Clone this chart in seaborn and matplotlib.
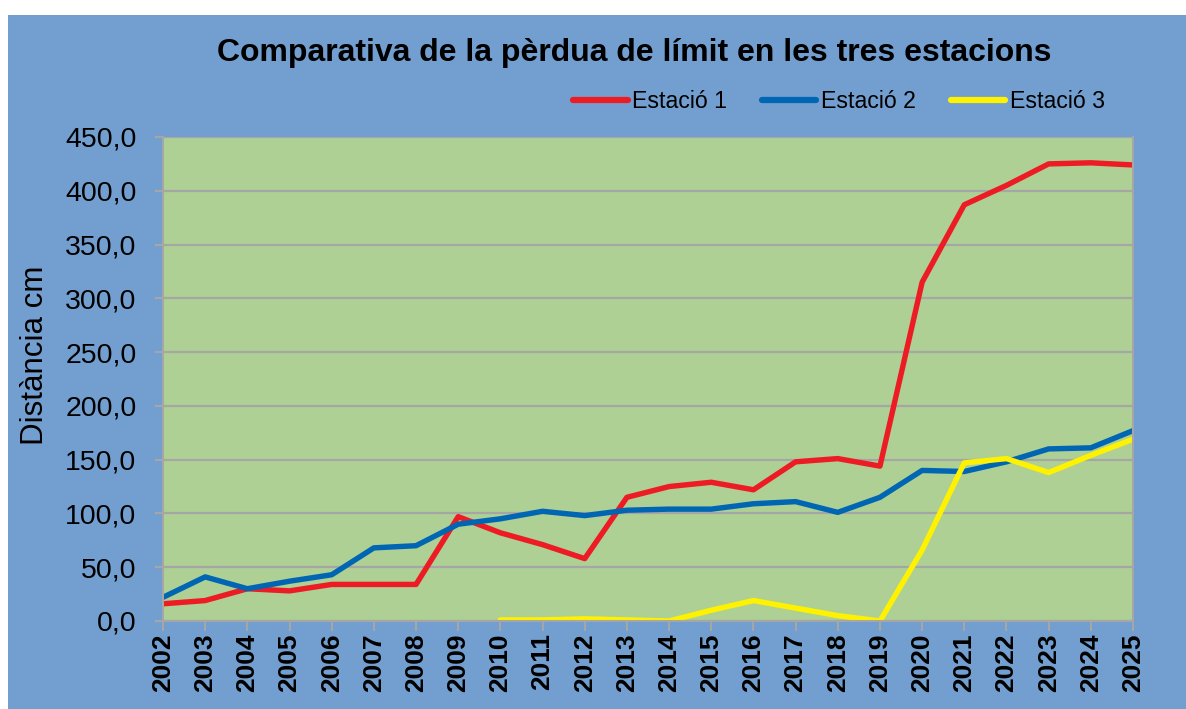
import matplotlib
matplotlib.use("Agg")
import matplotlib.pyplot as plt
from matplotlib.ticker import FuncFormatter
import numpy as np
import pandas as pd
import seaborn as sns

years = list(range(2002, 2026))
estacio1 = [16, 19, 30, 28, 34, 34, 34, 97, 82, 71, 58, 115, 125, 129, 122, 148,
            151, 144, 315, 387, 405, 425, 426, 424]
estacio2 = [22, 41, 30, 37, 43, 68, 70, 90, 95, 102, 98, 103, 104, 104, 109, 111,
            101, 115, 140, 139, 148, 160, 161, 177]
estacio3 = [np.nan] * 8 + [1, 1, 2, 1, 0, 10, 19, 12, 5, 0, 66, 147, 151, 138, 154, 169]
series_names = ["Estació 1", "Estació 2", "Estació 3"]
title = "Comparativa de la pèrdua de límit en les tres estacions"
ylabel = "Distància cm"

df = pd.DataFrame({
    "any": years * 3,
    "valor": estacio1 + estacio2 + estacio3,
    "estacio": [series_names[0]] * len(years) + [series_names[1]] * len(years)
               + [series_names[2]] * len(years),
})

sns.set_style("white")
plt.rcParams["font.family"] = ["Liberation Sans", "DejaVu Sans"]
plt.rcParams["text.color"] = "black"
plt.rcParams["xtick.color"] = "black"
plt.rcParams["ytick.color"] = "black"
plt.rcParams["axes.labelcolor"] = "black"

BG = "#729fcf"
PLOT_BG = "#aed094"
GRID = "#a6a6a6"

fig = plt.figure(figsize=(11.86, 7.09), dpi=100, facecolor="white")
bg_ax = fig.add_axes([8 / 1186, 0, 1 - 8 / 1186, 1 - 15 / 709], zorder=-10)
bg_ax.set_facecolor(BG)
bg_ax.set_xticks([])
bg_ax.set_yticks([])
for s in bg_ax.spines.values():
    s.set_visible(False)

ax = fig.add_axes([163 / 1186, 1 - 621 / 709, (1133 - 163) / 1186, (621 - 137) / 709])
ax.set_facecolor(PLOT_BG)

palette = {series_names[0]: "#ed1c24", series_names[1]: "#0066b3", series_names[2]: "#fff200"}
sns.lineplot(data=df, x="any", y="valor", hue="estacio", palette=palette, ax=ax,
             linewidth=3.9, legend=True, sort=False)
for ln in ax.lines:
    ln.set_solid_joinstyle("round")

ax.set_xlim(2002, 2025)
ax.set_ylim(0, 450)
ax.set_yticks(np.arange(0, 451, 50))
ax.yaxis.set_major_formatter(FuncFormatter(lambda v, p: f"{v:.1f}".replace(".", ",")))
ax.set_xticks(years)
ax.set_xticklabels([str(y) for y in years], rotation=90, fontsize=19, fontweight="bold")
ax.tick_params(axis="y", labelsize=20.5, length=6, width=1.5, color=GRID, pad=13,
               direction="out", left=True, labelcolor="black")
ax.tick_params(axis="x", length=7, width=1.5, color=GRID, pad=2, direction="out",
               bottom=True, labelcolor="black")
ax.grid(axis="y", color=GRID, linewidth=1.6)
ax.grid(axis="x", visible=False)
ax.set_axisbelow(True)
for side in ["left", "bottom", "right"]:
    ax.spines[side].set_color(GRID)
    ax.spines[side].set_linewidth(1.5)
ax.spines["top"].set_visible(False)
ax.set_xlabel("")
ax.set_ylabel("")
fig.text(35 / 1186, 1 - 355 / 709, ylabel, rotation=90, fontsize=22.5,
         ha="center", va="center", color="black")

fig.text(634 / 1186, 1 - 53 / 709, title, fontsize=23, fontweight="bold",
         ha="center", va="center", color="black")

handles, labels = ax.get_legend_handles_labels()
ax.get_legend().remove()
for h in handles:
    h.set_linewidth(4.5)
fig.legend(handles, labels, loc="center left",
           bbox_to_anchor=(573 / 1186, 1 - 102 / 709), ncol=3, frameon=False,
           fontsize=16.7, handlelength=2.35, handletextpad=0.2, columnspacing=1.5,
           borderpad=0, borderaxespad=0, labelcolor="black")

fig.savefig("out.png", dpi=100, facecolor="white")
